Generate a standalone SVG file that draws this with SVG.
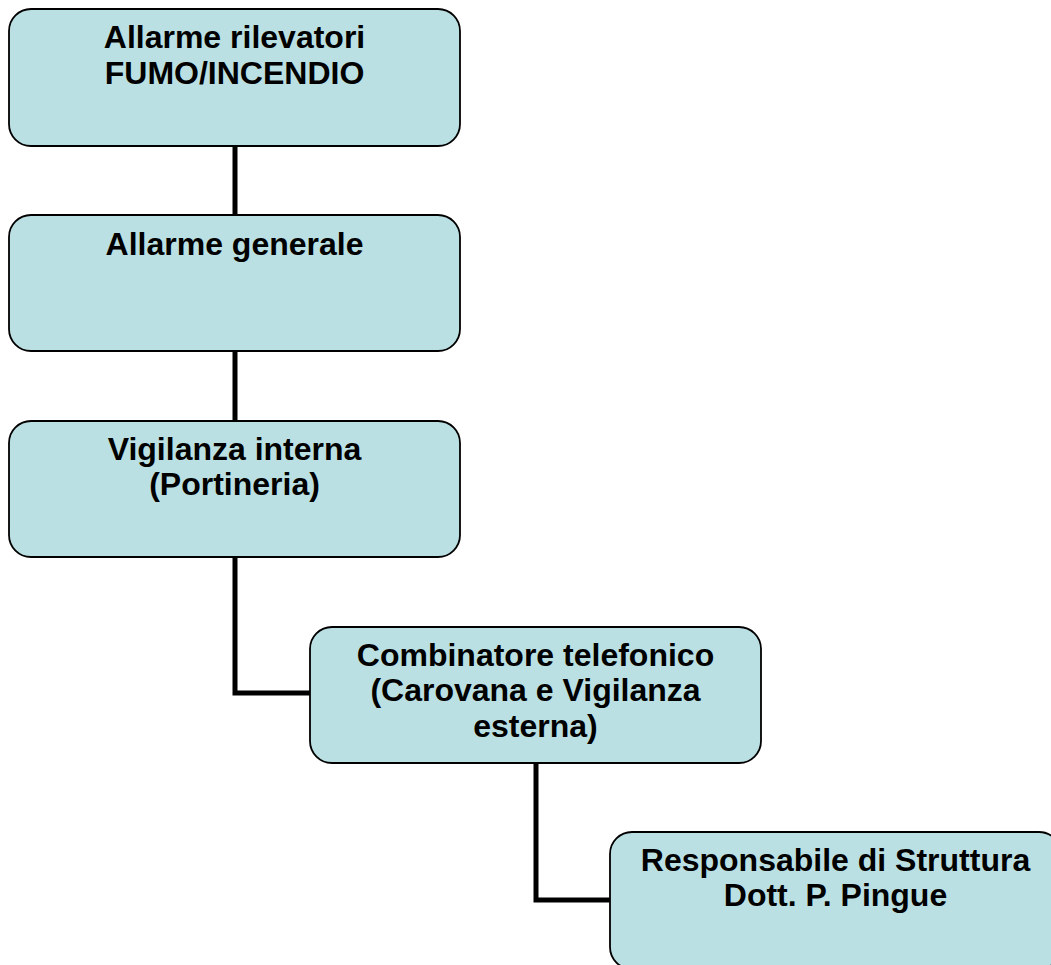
<svg xmlns="http://www.w3.org/2000/svg" width="1051" height="965" viewBox="0 0 1051 965">
<style>
.box{fill:#BBE0E3;stroke:#000;stroke-width:1.8}
.t{font-family:"Liberation Sans",Arial,sans-serif;font-weight:bold;font-size:32px;fill:#000;text-anchor:middle}
.c{fill:none;stroke:#000;stroke-width:5}
</style>
<rect width="1051" height="965" fill="#fff"/>
<g id="connectors">
<line class="c" x1="235" y1="146" x2="235" y2="215"/>
<line class="c" x1="235" y1="351" x2="235" y2="421"/>
<polyline class="c" points="235,557 235,693 310,693"/>
<polyline class="c" points="536,763 536,900 610,900"/>
</g>
<g id="n1">
<rect class="box" x="9" y="9" width="451" height="137" rx="22"/>
<text class="t" x="234.5" y="48">Allarme rilevatori</text>
<text class="t" x="234.5" y="84">FUMO/INCENDIO</text>
</g>
<g id="n2">
<rect class="box" x="9" y="215" width="451" height="136" rx="22"/>
<text class="t" x="234.5" y="255">Allarme generale</text>
</g>
<g id="n3">
<rect class="box" x="9" y="421" width="451" height="136" rx="22"/>
<text class="t" x="234.5" y="460">Vigilanza interna</text>
<text class="t" x="234.5" y="495">(Portineria)</text>
</g>
<g id="n4">
<rect class="box" x="310" y="627" width="451" height="136" rx="22"/>
<text class="t" x="535.5" y="666">Combinatore telefonico</text>
<text class="t" x="535.5" y="701">(Carovana e Vigilanza</text>
<text class="t" x="535.5" y="737">esterna)</text>
</g>
<g id="n5">
<rect class="box" x="610" y="832" width="451" height="137" rx="22"/>
<text class="t" x="835.5" y="871">Responsabile di Struttura</text>
<text class="t" x="835.5" y="906">Dott. P. Pingue</text>
</g>
</svg>
